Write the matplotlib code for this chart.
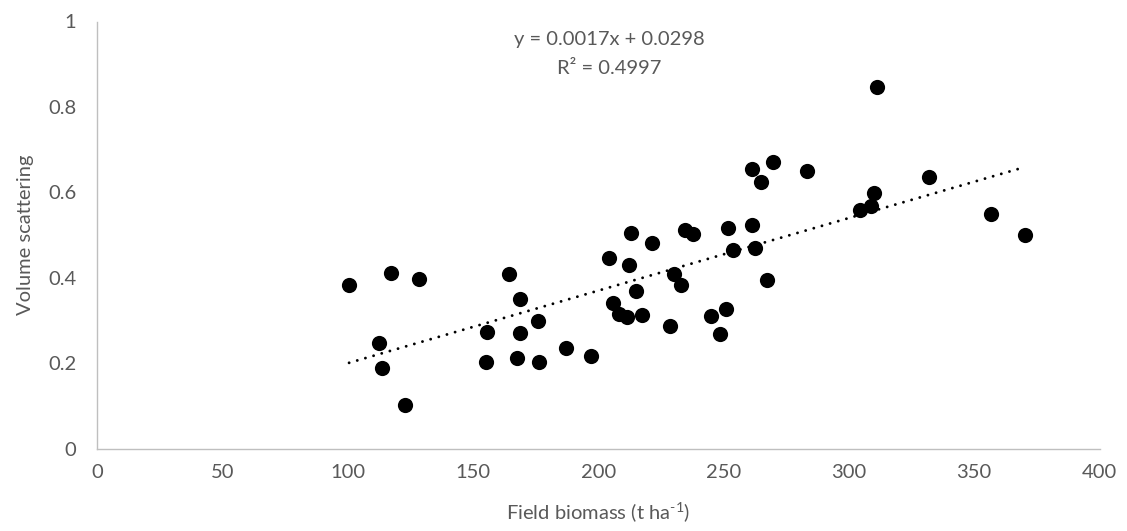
import matplotlib
matplotlib.use("Agg")
import matplotlib.pyplot as plt
import numpy as np

# Data
biomass = [100.5, 117.2, 128.4, 112.6, 113.6, 122.7,
           164.5, 168.8, 155.4, 168.8, 175.9, 155.2, 167.7, 176.4, 187.1, 197.1,
           212.9, 221.5, 234.6, 237.7, 204.4, 212.3, 230.0, 232.9, 215.0, 206.0,
           208.4, 211.6, 217.6, 228.6,
           251.9, 261.4, 253.6, 262.4, 267.2,
           311.2, 261.2, 269.7, 264.8, 283.2, 332.0, 309.9, 308.9, 304.6, 356.5,
           370.3, 251.0, 245.0, 248.6]
volume = [0.382, 0.412, 0.396, 0.247, 0.189, 0.103,
          0.408, 0.351, 0.273, 0.271, 0.299, 0.203, 0.211, 0.203, 0.236, 0.217,
          0.504, 0.482, 0.512, 0.503, 0.447, 0.429, 0.409, 0.383, 0.370, 0.341,
          0.316, 0.308, 0.313, 0.286,
          0.516, 0.523, 0.466, 0.470, 0.395,
          0.847, 0.655, 0.672, 0.623, 0.651, 0.637, 0.599, 0.569, 0.559, 0.550,
          0.501, 0.327, 0.310, 0.268]
slope = 0.0017
intercept = 0.0298
r2 = 0.4997
x_ticks = [0, 50, 100, 150, 200, 250, 300, 350, 400]
y_ticks = [0, 0.2, 0.4, 0.6, 0.8, 1]
y_tick_labels = ["0", "0.2", "0.4", "0.6", "0.8", "1"]

plt.rcParams['font.family'] = ['Lato', 'DejaVu Sans']
plt.rcParams['mathtext.fontset'] = 'custom'
plt.rcParams['mathtext.rm'] = 'Lato'

W, H = 1127, 531
fig = plt.figure(figsize=(W / 100, H / 100), dpi=100)
left, right, top, bottom = 97.3, 1099.5, 21.5, 448.5
ax = fig.add_axes([left / W, 1 - bottom / H, (right - left) / W, (bottom - top) / H])

grey = '#595959'
fs = 14.5
ax.scatter(biomass, volume, s=120, color='black', zorder=3, linewidths=0)

xs = np.array([min(biomass), max(biomass)])
ax.plot(xs, slope * xs + intercept, color='black', lw=2.1,
        linestyle=(0, (0.01, 2.9)), dash_capstyle='round', zorder=2)

ax.set_xlim(0, 400)
ax.set_ylim(0, 1)
ax.set_xticks(x_ticks)
ax.set_yticks(y_ticks)
ax.set_yticklabels(y_tick_labels)
ax.tick_params(axis='both', length=0, labelsize=fs, colors=grey)
ax.tick_params(axis='y', pad=15)
ax.tick_params(axis='x', pad=11)
for s in ['top', 'right']:
    ax.spines[s].set_visible(False)
for s in ['left', 'bottom']:
    ax.spines[s].set_color('#BFBFBF')
    ax.spines[s].set_linewidth(1.0)

ax.set_xlabel('Field biomass (t ha$^{\\mathregular{\u20101}}$)', fontsize=fs, color=grey, labelpad=14)
ax.set_ylabel('Volume scattering', fontsize=fs, color=grey, labelpad=10)

ax.text(204.3, 0.959, f'y = {slope:.4f}x + {intercept:.4f}', ha='center', va='center',
        fontsize=fs, color=grey)
ax.text(204.3, 0.891, f'R² = {r2:.4f}', ha='center', va='center',
        fontsize=fs, color=grey)

fig.savefig('out.png', dpi=100)
